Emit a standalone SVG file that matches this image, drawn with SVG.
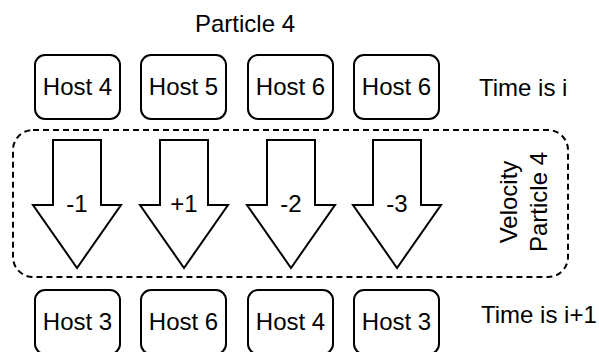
<svg xmlns="http://www.w3.org/2000/svg" width="599" height="352" viewBox="0 0 599 352">
  <style>
    text { font-family: "Liberation Sans", Arial, sans-serif; font-size: 24px; fill: #000; }
    .host rect { fill: #fff; stroke: #000; stroke-width: 2; }
    .host text, .arrow text { text-anchor: middle; }
    .arrow use { fill: #fff; stroke: #000; stroke-width: 2; stroke-linejoin: miter; }
    .group { fill: none; stroke: #000; stroke-width: 2; stroke-dasharray: 6 4; }
  </style>
  <defs>
    <!-- down-pointing block arrow centred on x=0 -->
    <path id="down" d="M -24 0 H 24 V 65 H 44 L 0 128 L -44 65 H -24 Z"/>
  </defs>
  <rect width="599" height="352" fill="#fff"/>

  <text id="title" x="195" y="32">Particle 4</text>

  <!-- velocity group frame -->
  <g id="velocity">
    <rect class="group" x="13" y="130" width="555" height="147" rx="20" ry="20"/>
    <text transform="translate(517 202) rotate(-90)" text-anchor="middle">Velocity</text>
    <text transform="translate(547 202) rotate(-90)" text-anchor="middle">Particle 4</text>
  </g>

  <!-- hosts at time i -->
  <g id="host-top-1" class="host"><rect x="35" y="55" width="85" height="64" rx="10"/><text x="77.5" y="95">Host 4</text></g>
  <g id="host-top-2" class="host"><rect x="141" y="55" width="85" height="64" rx="10"/><text x="183.5" y="95">Host 5</text></g>
  <g id="host-top-3" class="host"><rect x="248" y="55" width="85" height="64" rx="10"/><text x="290.5" y="95">Host 6</text></g>
  <g id="host-top-4" class="host"><rect x="354" y="55" width="85" height="64" rx="10"/><text x="396.5" y="95">Host 6</text></g>
  <text id="time-i" x="479" y="96">Time is i</text>

  <!-- velocity arrows -->
  <g id="connectors">
    <g id="arrow-1" class="arrow"><use href="#down" transform="translate(77 140)"/><text x="77" y="212">-1</text></g>
    <g id="arrow-2" class="arrow"><use href="#down" transform="translate(184 140)"/><text x="184" y="212">+1</text></g>
    <g id="arrow-3" class="arrow"><use href="#down" transform="translate(291 140)"/><text x="291" y="212">-2</text></g>
    <g id="arrow-4" class="arrow"><use href="#down" transform="translate(397 140)"/><text x="397" y="212">-3</text></g>
  </g>

  <!-- hosts at time i+1 -->
  <g id="host-bot-1" class="host"><rect x="35" y="290" width="85" height="64" rx="10"/><text x="77.5" y="330">Host 3</text></g>
  <g id="host-bot-2" class="host"><rect x="141" y="290" width="85" height="64" rx="10"/><text x="183.5" y="330">Host 6</text></g>
  <g id="host-bot-3" class="host"><rect x="248" y="290" width="85" height="64" rx="10"/><text x="290.5" y="330">Host 4</text></g>
  <g id="host-bot-4" class="host"><rect x="354" y="290" width="85" height="64" rx="10"/><text x="396.5" y="330">Host 3</text></g>
  <text id="time-i1" x="481" y="323">Time is i+1</text>
</svg>
